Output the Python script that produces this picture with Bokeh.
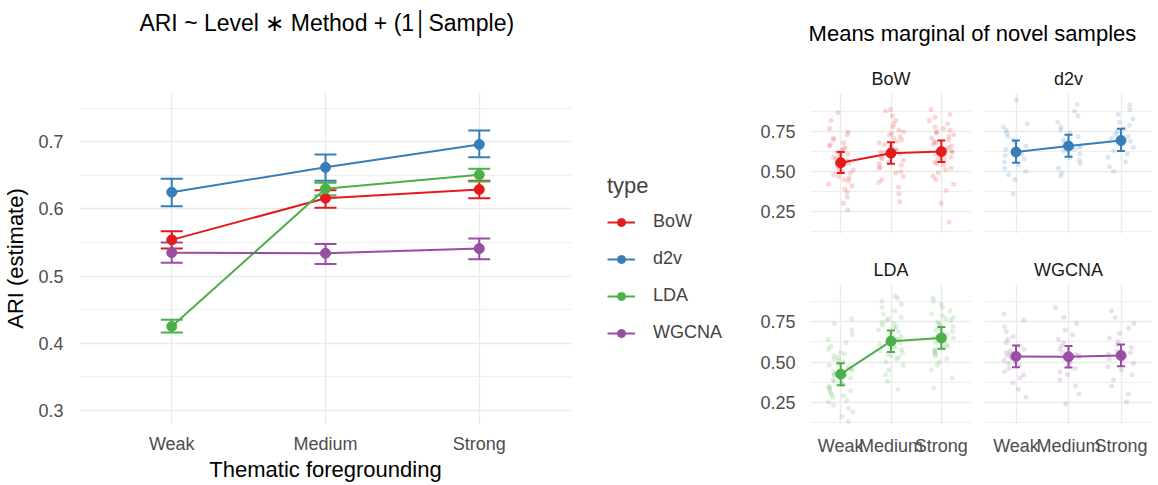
from bokeh.plotting import figure
from bokeh.models import (ColumnDataSource, FixedTicker, Whisker, TeeHead, Legend,
                          LegendItem, Range1d)
from bokeh.layouts import row, column
from bokeh.transform import jitter
from bokeh.embed import file_html
from bokeh.resources import INLINE
from bokeh.core.properties import value

FONT = "Liberation Sans"
GRID = "#EBEBEB"
TICK_TXT = "#4D4D4D"

levels = ["Weak", "Medium", "Strong"]
methods = ["BoW", "d2v", "LDA", "WGCNA"]
palette = ["#E41A1C", "#377EB8", "#4DAF4A", "#984EA3"]

# ---- left panel: model estimates (ARI) with error bars ----
est_bow = [0.554, 0.616, 0.629]
lo_bow = [0.541, 0.602, 0.616]
hi_bow = [0.567, 0.628, 0.642]

est_d2v = [0.625, 0.662, 0.696]
lo_d2v = [0.604, 0.642, 0.677]
hi_d2v = [0.645, 0.681, 0.717]

est_lda = [0.425, 0.630, 0.651]
lo_lda = [0.416, 0.620, 0.641]
hi_lda = [0.435, 0.639, 0.660]

est_wgcna = [0.535, 0.534, 0.541]
lo_wgcna = [0.520, 0.518, 0.525]
hi_wgcna = [0.550, 0.548, 0.556]

# ---- right panel: marginal means with intervals ----
mm_bow = [0.555, 0.615, 0.625]
mlo_bow = [0.490, 0.548, 0.560]
mhi_bow = [0.622, 0.683, 0.695]

mm_d2v = [0.622, 0.660, 0.695]
mlo_d2v = [0.555, 0.592, 0.628]
mhi_d2v = [0.695, 0.730, 0.768]

mm_lda = [0.424, 0.630, 0.650]
mlo_lda = [0.355, 0.563, 0.582]
mhi_lda = [0.492, 0.697, 0.718]

mm_wgcna = [0.535, 0.533, 0.541]
mlo_wgcna = [0.467, 0.465, 0.474]
mhi_wgcna = [0.603, 0.600, 0.609]

# ---- right panel: individual sample ARI values ----
bow_weak = [0.26, 0.30, 0.34, 0.37, 0.39, 0.41, 0.42, 0.44, 0.45, 0.46, 0.47, 0.48, 0.49, 0.50,
            0.51, 0.52, 0.53, 0.54, 0.55, 0.55, 0.56, 0.57, 0.58, 0.59, 0.60, 0.61, 0.62, 0.63,
            0.64, 0.65, 0.66, 0.67, 0.68, 0.70, 0.71, 0.73, 0.75, 0.77, 0.82, 0.87]
bow_medium = [0.31, 0.36, 0.40, 0.43, 0.45, 0.47, 0.49, 0.50, 0.52, 0.53, 0.54, 0.55, 0.56, 0.57,
              0.58, 0.59, 0.60, 0.61, 0.62, 0.62, 0.63, 0.64, 0.65, 0.66, 0.67, 0.68, 0.69, 0.70,
              0.71, 0.72, 0.73, 0.74, 0.75, 0.76, 0.78, 0.80, 0.82, 0.85, 0.88, 0.89]
bow_strong = [0.18, 0.30, 0.38, 0.42, 0.45, 0.47, 0.49, 0.51, 0.52, 0.54, 0.55, 0.56, 0.57, 0.58,
              0.59, 0.60, 0.61, 0.62, 0.63, 0.63, 0.64, 0.65, 0.66, 0.67, 0.68, 0.69, 0.70, 0.71,
              0.72, 0.73, 0.74, 0.75, 0.76, 0.77, 0.78, 0.80, 0.82, 0.84, 0.86, 0.89]
d2v_weak = [0.36, 0.45, 0.48, 0.50, 0.52, 0.54, 0.56, 0.58, 0.60, 0.61, 0.62, 0.63, 0.64, 0.66,
            0.68, 0.70, 0.72, 0.74, 0.76, 0.78, 0.80, 0.95]
d2v_medium = [0.47, 0.49, 0.52, 0.55, 0.57, 0.59, 0.61, 0.63, 0.64, 0.65, 0.66, 0.67, 0.68, 0.70,
              0.72, 0.74, 0.76, 0.78, 0.81, 0.85, 0.88, 0.92]
d2v_strong = [0.50, 0.53, 0.56, 0.59, 0.61, 0.63, 0.65, 0.67, 0.68, 0.69, 0.70, 0.71, 0.72, 0.73,
              0.75, 0.77, 0.79, 0.81, 0.83, 0.86, 0.89, 0.92]
lda_weak = [0.13, 0.16, 0.19, 0.21, 0.23, 0.25, 0.26, 0.28, 0.29, 0.30, 0.31, 0.32, 0.33, 0.34,
            0.35, 0.36, 0.37, 0.38, 0.39, 0.40, 0.41, 0.42, 0.42, 0.43, 0.44, 0.45, 0.46, 0.47,
            0.48, 0.49, 0.50, 0.51, 0.52, 0.53, 0.54, 0.55, 0.56, 0.58, 0.60, 0.62, 0.64, 0.67,
            0.70, 0.74, 0.77]
lda_medium = [0.33, 0.38, 0.42, 0.45, 0.48, 0.50, 0.52, 0.53, 0.54, 0.55, 0.56, 0.57, 0.58, 0.59,
              0.60, 0.61, 0.62, 0.62, 0.63, 0.64, 0.64, 0.65, 0.66, 0.67, 0.68, 0.69, 0.70, 0.71,
              0.72, 0.73, 0.74, 0.75, 0.76, 0.77, 0.78, 0.80, 0.82, 0.84, 0.86, 0.88, 0.90, 0.91]
lda_strong = [0.34, 0.40, 0.45, 0.48, 0.50, 0.52, 0.54, 0.55, 0.56, 0.57, 0.58, 0.59, 0.60, 0.61,
              0.62, 0.63, 0.64, 0.65, 0.65, 0.66, 0.67, 0.68, 0.69, 0.70, 0.71, 0.72, 0.73, 0.74,
              0.75, 0.76, 0.77, 0.78, 0.79, 0.80, 0.82, 0.84, 0.86, 0.88, 0.90]
wgcna_weak = [0.28, 0.33, 0.37, 0.40, 0.42, 0.44, 0.46, 0.48, 0.49, 0.50, 0.51, 0.52, 0.53, 0.54,
              0.55, 0.56, 0.57, 0.58, 0.60, 0.62, 0.64, 0.66, 0.69, 0.72, 0.76, 0.80]
wgcna_medium = [0.24, 0.30, 0.35, 0.39, 0.42, 0.44, 0.46, 0.48, 0.50, 0.51, 0.52, 0.53, 0.54, 0.55,
                0.56, 0.58, 0.60, 0.62, 0.64, 0.67, 0.70, 0.74, 0.78, 0.84]
wgcna_strong = [0.25, 0.30, 0.35, 0.39, 0.42, 0.45, 0.47, 0.49, 0.51, 0.52, 0.53, 0.54, 0.55, 0.56,
                0.57, 0.59, 0.61, 0.63, 0.65, 0.68, 0.71, 0.74, 0.78, 0.82]

y_ticks_left = [0.3, 0.4, 0.5, 0.6, 0.7]
y_minor_left = [0.25, 0.35, 0.45, 0.55, 0.65, 0.75]
y_ticks_right = [0.25, 0.50, 0.75]
y_minor_right = [0.125, 0.375, 0.625, 0.875]

left_series = {
    "BoW": (est_bow, lo_bow, hi_bow),
    "d2v": (est_d2v, lo_d2v, hi_d2v),
    "LDA": (est_lda, lo_lda, hi_lda),
    "WGCNA": (est_wgcna, lo_wgcna, hi_wgcna),
}
right_series = {
    "BoW": (mm_bow, mlo_bow, mhi_bow, [bow_weak, bow_medium, bow_strong]),
    "d2v": (mm_d2v, mlo_d2v, mhi_d2v, [d2v_weak, d2v_medium, d2v_strong]),
    "LDA": (mm_lda, mlo_lda, mhi_lda, [lda_weak, lda_medium, lda_strong]),
    "WGCNA": (mm_wgcna, mlo_wgcna, mhi_wgcna, [wgcna_weak, wgcna_medium, wgcna_strong]),
}

xpos = [i + 1 for i in range(len(levels))]
x_labels = {i + 1: lab for i, lab in enumerate(levels)}


def style_common(fig):
    fig.outline_line_color = None
    fig.background_fill_color = "white"
    fig.border_fill_color = "white"
    for ax in fig.axis:
        ax.axis_line_color = None
        ax.major_tick_line_color = None
        ax.minor_tick_line_color = None
        ax.major_label_text_font = FONT
        ax.major_label_text_color = TICK_TXT
        ax.major_label_text_font_size = "18px"
        ax.axis_label_text_font = FONT
        ax.axis_label_text_font_style = "normal"
        ax.axis_label_text_color = "black"
        ax.axis_label_text_font_size = "22px"
    fig.xgrid.grid_line_color = GRID
    fig.xgrid.grid_line_width = 1.4
    fig.ygrid.grid_line_color = GRID
    fig.ygrid.grid_line_width = 1.4
    fig.ygrid.minor_grid_line_color = GRID
    fig.ygrid.minor_grid_line_width = 0.8


def blank(width, height, mb_bottom=0, xr=(0, 1)):
    f = figure(width=width, height=height, x_range=Range1d(*xr), y_range=Range1d(0, 1),
               output_backend="svg", toolbar_location=None,
               min_border_left=0, min_border_right=0, min_border_top=0, min_border_bottom=mb_bottom)
    f.axis.visible = False
    f.grid.visible = False
    f.outline_line_color = None
    return f


def text_strip(width, height, tx, ty, txt, size):
    f = blank(width, height)
    f.text(x=[tx], y=[ty], text=[txt], text_align="center", text_baseline="middle",
           text_font=value(FONT), text_font_size=size, text_color="black")
    return f


# ================= LEFT PANEL =================
ltf = text_strip(757, 45, 0.431, 0.51, "ARI ~ Level \u2217 Method + (1\u2502Sample)", "23px")

p = figure(width=600, height=439, x_range=Range1d(0.4, 3.6), y_range=Range1d(0.279, 0.7735),
           output_backend="svg", toolbar_location=None,
           min_border_left=74, min_border_right=29, min_border_top=47, min_border_bottom=57)
p.xaxis.ticker = FixedTicker(ticks=xpos)
p.xaxis.major_label_overrides = x_labels
p.xaxis.axis_label = "Thematic foregrounding"
p.yaxis.ticker = FixedTicker(ticks=y_ticks_left, minor_ticks=y_minor_left)
p.yaxis.axis_label = "ARI (estimate)"
p.xgrid.ticker = FixedTicker(ticks=xpos)
p.ygrid.ticker = FixedTicker(ticks=y_ticks_left, minor_ticks=y_minor_left)
style_common(p)
p.xaxis.major_label_standoff = 3
p.xaxis.axis_label_standoff = 0
p.yaxis.major_label_standoff = 10
p.yaxis.axis_label_standoff = 7

for m, c in zip(methods, palette):
    est, lo, hi = left_series[m]
    src = ColumnDataSource(data=dict(x=xpos, y=est, lo=lo, hi=hi))
    p.add_layout(Whisker(source=src, base="x", upper="hi", lower="lo", dimension="height",
                         line_color=c, line_width=2,
                         upper_head=TeeHead(size=22, line_color=c, line_width=2),
                         lower_head=TeeHead(size=22, line_color=c, line_width=2)))
    p.line("x", "y", source=src, line_color=c, line_width=2)
    p.scatter("x", "y", source=src, size=10, fill_color=c, line_color=c)

# legend panel: key glyphs come from the same series, kept outside this panel's view
lf = blank(157, 439, mb_bottom=18, xr=(20, 21))
items = []
for m, c in zip(methods, palette):
    est, lo, hi = left_series[m]
    ksrc = ColumnDataSource(data=dict(x=xpos, y=est))
    lr = lf.line("x", "y", source=ksrc, line_color=c, line_width=2)
    sr = lf.scatter("x", "y", source=ksrc, size=10, fill_color=c, line_color=c)
    items.append(LegendItem(label=m, renderers=[lr, sr]))
legend = Legend(items=items, title="type", location="center_left",
                title_text_font=FONT, title_text_font_size="22px", title_text_font_style="normal",
                title_standoff=12,
                label_text_font=FONT, label_text_font_size="18px",
                glyph_width=28, glyph_height=20, label_height=20, label_standoff=18, spacing=16,
                margin=7, padding=2, border_line_color=None, background_fill_alpha=0)
lf.add_layout(legend, "center")

left = column(ltf, row(p, lf))


# ================= RIGHT PANEL =================
def facet(method, width, height, mb_left, mb_right, mb_top, mb_bottom, show_x, show_y, standoff):
    color = palette[methods.index(method)]
    fig = figure(width=width, height=height, x_range=Range1d(0.4, 3.6), y_range=Range1d(0.11, 0.99),
                 output_backend="svg", toolbar_location=None,
                 min_border_left=mb_left, min_border_right=mb_right,
                 min_border_top=mb_top, min_border_bottom=mb_bottom)
    fig.title.text = method
    fig.title.align = "center"
    fig.title.text_font = FONT
    fig.title.text_font_size = "18px"
    fig.title.text_font_style = "normal"
    fig.title.text_color = "#1A1A1A"
    fig.title.standoff = standoff
    fig.xaxis.ticker = FixedTicker(ticks=xpos)
    fig.xaxis.major_label_overrides = x_labels
    fig.yaxis.ticker = FixedTicker(ticks=y_ticks_right, minor_ticks=y_minor_right)
    fig.yaxis.major_label_overrides = {0.25: "0.25", 0.5: "0.50", 0.75: "0.75"}
    fig.xgrid.ticker = FixedTicker(ticks=xpos)
    fig.ygrid.ticker = FixedTicker(ticks=y_ticks_right, minor_ticks=y_minor_right)
    style_common(fig)
    fig.xaxis.major_label_standoff = 5
    fig.yaxis.major_label_standoff = 9
    fig.xaxis.visible = show_x
    fig.yaxis.visible = show_y

    mm, lo, hi, raw = right_series[method]
    xs, ys = [], []
    for i, vals in enumerate(raw):
        xs.extend([xpos[i]] * len(vals))
        ys.extend(vals)
    raw_src = ColumnDataSource(data=dict(x=xs, y=ys))
    fig.scatter(jitter("x", width=0.5, distribution="uniform"), "y", source=raw_src, size=5,
                fill_color=color, line_color=None, fill_alpha=0.18)

    src = ColumnDataSource(data=dict(x=xpos, y=mm, lo=lo, hi=hi))
    fig.line("x", "y", source=src, line_color=color, line_width=2)
    fig.add_layout(Whisker(source=src, base="x", upper="hi", lower="lo", dimension="height",
                           line_color=color, line_width=2,
                           upper_head=TeeHead(size=8, line_color=color, line_width=2),
                           lower_head=TeeHead(size=8, line_color=color, line_width=2)))
    fig.scatter("x", "y", source=src, size=10, fill_color=color, line_color=color)
    return fig


tf = text_strip(401, 58, 0.536, 0.43, "Means marginal of novel samples", "22px")

f_bow = facet("BoW", 218, 192, 46, 4, 35, 17, False, True, 10)
f_d2v = facet("d2v", 183, 192, 9, 6, 35, 17, False, False, 10)
f_lda = facet("LDA", 218, 233, 46, 4, 33, 59, True, True, 8)
f_wgcna = facet("WGCNA", 183, 233, 9, 6, 33, 59, True, False, 8)

right = column(tf, row(f_bow, f_d2v), row(f_lda, f_wgcna))
layout = row(left, right)

open("out.html", "w").write(file_html(layout, INLINE))
